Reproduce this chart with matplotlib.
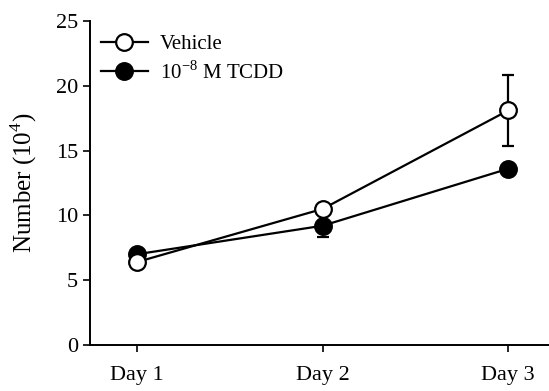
import matplotlib
matplotlib.use("Agg")
import matplotlib.pyplot as plt
from matplotlib.lines import Line2D

days = [1, 2, 3]
day_labels = ["Day 1", "Day 2", "Day 3"]
vehicle = [6.4, 10.5, 18.1]
vehicle_err = [0.0, 0.0, 2.75]
tcdd = [7.0, 9.2, 13.6]
tcdd_err = [0.0, 0.9, 0.0]

plt.rcParams['font.family'] = ['Liberation Serif', 'DejaVu Serif']
plt.rcParams['mathtext.fontset'] = 'custom'
plt.rcParams['mathtext.rm'] = 'Liberation Serif'

fig = plt.figure(figsize=(5.49, 3.91), dpi=100)
ax = fig.add_axes([0.164, 0.118, 0.836, 0.828])

ax.errorbar(days, vehicle, yerr=vehicle_err, color='black', lw=1.6, marker='o',
            ms=12, mfc='white', mec='black', mew=1.6, capsize=4, elinewidth=1.6,
            capthick=1.6, zorder=3)
ax.errorbar(days, tcdd, yerr=tcdd_err, color='black', lw=1.6, marker='o',
            ms=12, mfc='black', mec='black', mew=1.6, capsize=4, elinewidth=1.6,
            capthick=1.6, zorder=2)

ax.set_xlim(0.746, 3.22)
ax.set_ylim(0, 25)
ax.set_yticks([0, 5, 10, 15, 20, 25])
ax.set_xticks(days)
ax.set_xticklabels(day_labels)
ax.tick_params(axis='both', direction='out', labelsize=16, width=1.2, length=5, color='black')
ax.tick_params(axis='x', pad=10)
ax.spines['top'].set_visible(False)
ax.spines['right'].set_visible(False)
ax.spines['left'].set_linewidth(1.4)
ax.spines['bottom'].set_linewidth(1.4)
ax.set_ylabel('Number (10$^4$)', fontsize=18, labelpad=12)

handles = [
    Line2D([], [], color='black', lw=1.6, marker='o', ms=12, mfc='white', mec='black', mew=1.6),
    Line2D([], [], color='black', lw=1.6, marker='o', ms=12, mfc='black', mec='black', mew=1.6),
]
labels = ['Vehicle', '10$^{-8}$ M TCDD']
ax.legend(handles, labels, loc='upper left', frameon=False, fontsize=15, handlelength=2.25,
          handletextpad=0.6, borderaxespad=0.0, labelspacing=0.35,
          bbox_to_anchor=(0.005, 0.985))

fig.savefig('out.png', dpi=100)
